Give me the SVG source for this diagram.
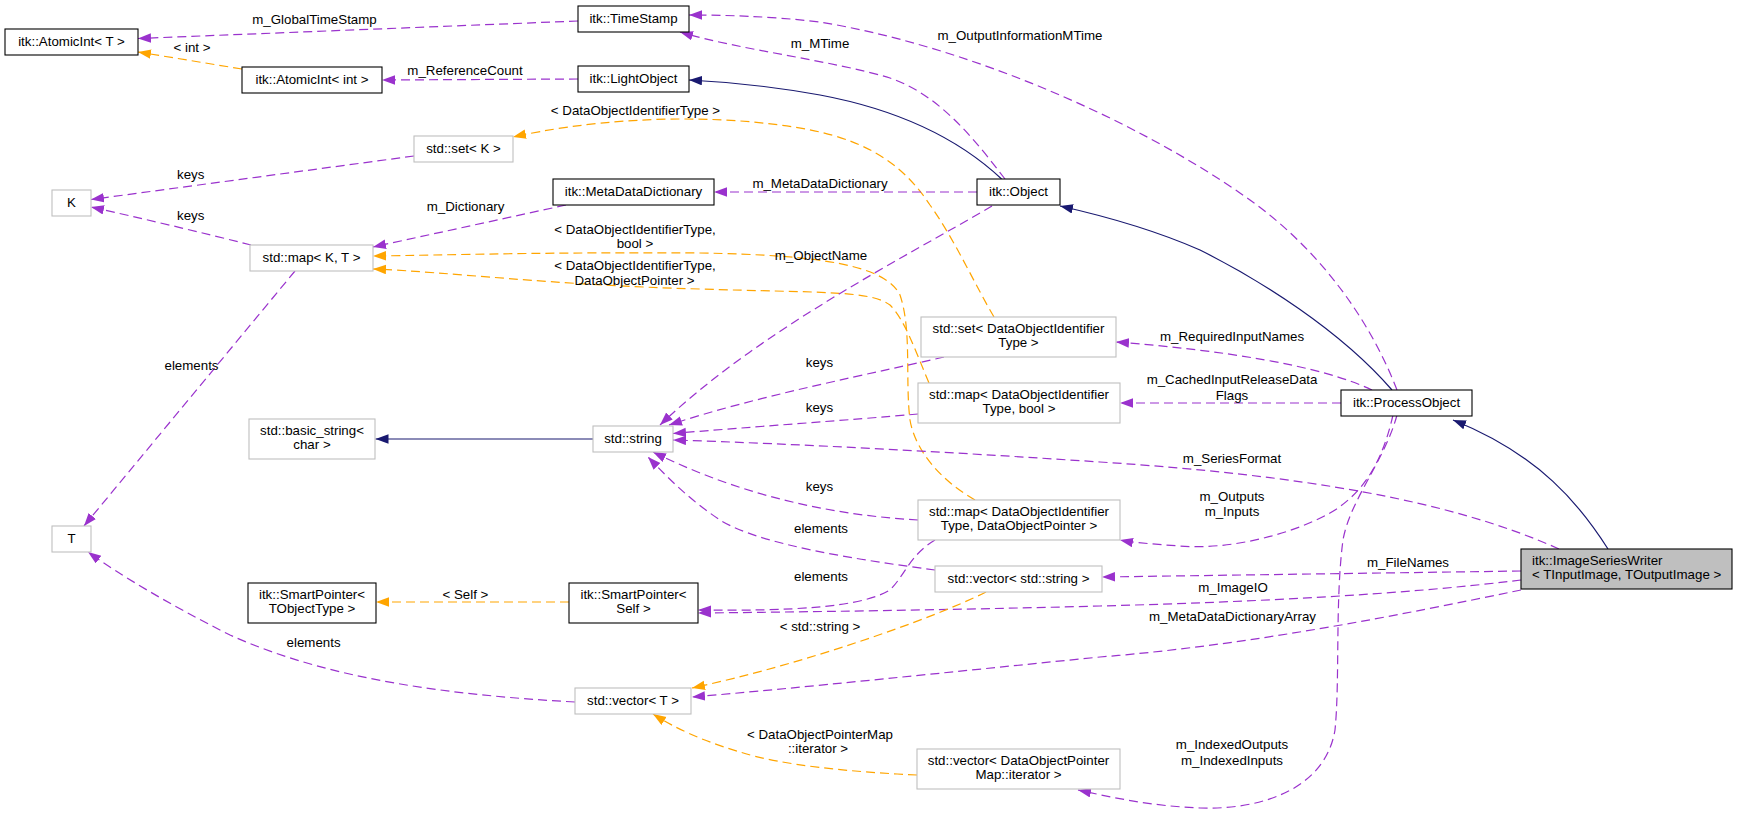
<svg xmlns="http://www.w3.org/2000/svg" width="1737" height="814" viewBox="0 0 1737 814">
<defs>
<style>
.doc{fill:#fff;stroke:#000;stroke-width:1.1}
.und{fill:#fff;stroke:#bfbfbf;stroke-width:1.1}
.main{fill:#bfbfbf;stroke:#000;stroke-width:1.1}
text{font-family:"Liberation Sans",Arial,Helvetica,sans-serif;font-size:13.3px;fill:#000}
.c{text-anchor:middle}
.ep{fill:none;stroke:#9a32cd;stroke-width:1.2;stroke-dasharray:9,5;marker-end:url(#ap)}
.eo{fill:none;stroke:#ffa500;stroke-width:1.2;stroke-dasharray:9,5;marker-end:url(#ao)}
.en{fill:none;stroke:#191970;stroke-width:1.2;marker-end:url(#an)}
</style>
<marker id="ap" markerUnits="userSpaceOnUse" markerWidth="14" markerHeight="11" refX="13" refY="4.75" orient="auto"><path d="M0,0 L13,4.75 L0,9.5 z" fill="#9a32cd"/></marker>
<marker id="ao" markerUnits="userSpaceOnUse" markerWidth="14" markerHeight="11" refX="13" refY="4.75" orient="auto"><path d="M0,0 L13,4.75 L0,9.5 z" fill="#ffa500"/></marker>
<marker id="an" markerUnits="userSpaceOnUse" markerWidth="14" markerHeight="11" refX="13" refY="4.75" orient="auto"><path d="M0,0 L13,4.75 L0,9.5 z" fill="#191970"/></marker>
</defs>
<rect width="1737" height="814" fill="#fff"/>
<g id="edges">
<path class="ep" d="M578,21 L138,38.5"/>
<text class="c" x="314.5" y="23.5">m_GlobalTimeStamp</text>
<path class="eo" d="M242,69 L138,52"/>
<text class="c" x="192" y="52">&lt; int &gt;</text>
<path class="ep" d="M578,79 L382,80"/>
<text class="c" x="465" y="75">m_ReferenceCount</text>
<path class="en" d="M1001.6,179 C960,140 900,110 820,95 C770,86 730,82 689,80"/>
<path class="ep" d="M1005,179 C975,140 940,95 890,78 C830,60 740,50 680,32"/>
<text class="c" x="820" y="48">m_MTime</text>
<path class="ep" d="M1397,390 C1370,320 1320,250 1250,200 C1130,115 960,45 820,22 C770,16 720,15 689,15"/>
<text class="c" x="1020" y="40">m_OutputInformationMTime</text>
<path class="eo" d="M994,317 C975,285 955,240 930,205 C900,160 860,135 780,125 C680,112 580,122 513,137"/>
<text class="c" x="635.5" y="114.5">&lt; DataObjectIdentifierType &gt;</text>
<path class="ep" d="M414,156 L91,199.5"/>
<text class="c" x="190.7" y="179">keys</text>
<path class="ep" d="M251,245 C200,232 140,218 91,207"/>
<text class="c" x="190.7" y="220">keys</text>
<path class="ep" d="M566,205 L373,247"/>
<text class="c" x="465.6" y="211">m_Dictionary</text>
<path class="ep" d="M977,192 L714,192"/>
<text class="c" x="820" y="188">m_MetaDataDictionary</text>
<path class="eo" d="M975,500 C940,480 915,450 910,420 C905,380 912,330 900,295 C885,265 820,255 700,253 C550,252 450,255 373,256"/>
<text class="c" x="635" y="233.5">&lt; DataObjectIdentifierType,</text>
<text class="c" x="635" y="248">bool &gt;</text>
<path class="eo" d="M929,383 C915,350 905,320 890,305 C870,290 820,293 700,289 C550,285 450,272 373,269"/>
<text class="c" x="635" y="269.5">&lt; DataObjectIdentifierType,</text>
<text class="c" x="634.5" y="284.5">DataObjectPointer &gt;</text>
<path class="ep" d="M992,206 C900,260 760,330 660,425"/>
<text class="c" x="821" y="260">m_ObjectName</text>
<path class="ep" d="M295,271 L84,526"/>
<text class="c" x="191.5" y="369.5">elements</text>
<path class="en" d="M593,439 L375.5,439"/>
<path class="ep" d="M944,357 C880,372 760,395 669,425"/>
<text class="c" x="819.5" y="367">keys</text>
<path class="ep" d="M918,414 C850,420 750,427 673,433.5"/>
<text class="c" x="819.5" y="412">keys</text>
<path class="ep" d="M1372,390 C1320,365 1220,350 1116,342"/>
<text class="c" x="1232" y="340.5">m_RequiredInputNames</text>
<path class="ep" d="M1341,403 L1120,403"/>
<text class="c" x="1232" y="384">m_CachedInputReleaseData</text>
<text class="c" x="1232" y="399.5">Flags</text>
<path class="ep" d="M1393,415 C1385,450 1370,490 1330,513 C1290,535 1230,550 1180,546 C1150,544 1130,542 1120,540"/>
<text class="c" x="1232" y="501">m_Outputs</text>
<text class="c" x="1232" y="516">m_Inputs</text>
<path class="en" d="M1392,390 C1340,330 1260,280 1200,250 C1150,228 1100,215 1060,206"/>
<path class="en" d="M1608,549 C1580,505 1540,455 1453,420"/>
<path class="ep" d="M1559,549 C1450,500 1300,475 1100,462 C950,452 800,444 673,440"/>
<text class="c" x="1232" y="463">m_SeriesFormat</text>
<path class="ep" d="M918,520 C830,515 740,495 653,452"/>
<text class="c" x="819.5" y="491">keys</text>
<path class="ep" d="M935,570 C860,560 760,545 720,520 C690,500 670,480 648,457"/>
<text class="c" x="821" y="533">elements</text>
<path class="ep" d="M1521,571 L1102,577"/>
<text class="c" x="1408" y="567">m_FileNames</text>
<path class="ep" d="M1521,580 C1400,595 1250,602 1100,606 C950,610 800,612 698,613"/>
<text class="c" x="1233" y="592">m_ImageIO</text>
<path class="ep" d="M935,540 C910,555 905,575 890,590 C860,608 790,611 698,610"/>
<text class="c" x="821" y="581">elements</text>
<path class="eo" d="M569,602 L376,602"/>
<text class="c" x="465.4" y="599">&lt; Self &gt;</text>
<path class="eo" d="M986,592 C930,620 800,665 692,688"/>
<text class="c" x="820" y="631">&lt; std::string &gt;</text>
<path class="ep" d="M1521,590 C1400,615 1250,645 1100,657 C950,672 800,688 692,697"/>
<text class="c" x="1232.5" y="621">m_MetaDataDictionaryArray</text>
<path class="ep" d="M575,702 C450,695 330,680 230,635 C170,605 120,575 88,552"/>
<text class="c" x="313.6" y="647">elements</text>
<path class="eo" d="M917,775 C850,772 780,765 740,752 C700,740 675,728 653,714"/>
<text class="c" x="820" y="739">&lt; DataObjectPointerMap</text>
<text class="c" x="818" y="753">::iterator &gt;</text>
<path class="ep" d="M1397,415 C1385,460 1350,500 1343,540 C1335,600 1340,680 1335,730 C1325,790 1260,810 1200,808 C1150,806 1110,797 1078,790"/>
<text class="c" x="1232" y="749">m_IndexedOutputs</text>
<text class="c" x="1232" y="764.5">m_IndexedInputs</text>
</g>
<g id="n_atomicT"><rect class="doc" x="5" y="29" width="133" height="26"/><text class="c" x="71.5" y="46">itk::AtomicInt&lt; T &gt;</text></g>
<g id="n_atomicInt"><rect class="doc" x="242" y="67" width="140" height="26"/><text class="c" x="312" y="84">itk::AtomicInt&lt; int &gt;</text></g>
<g id="n_timestamp"><rect class="doc" x="578" y="6" width="111" height="26"/><text class="c" x="633.5" y="23">itk::TimeStamp</text></g>
<g id="n_lightobject"><rect class="doc" x="578" y="66" width="111" height="26"/><text class="c" x="633.5" y="83">itk::LightObject</text></g>
<g id="n_setK"><rect class="und" x="414" y="136" width="99" height="26"/><text class="c" x="463.5" y="153">std::set&lt; K &gt;</text></g>
<g id="n_K"><rect class="und" x="52" y="190" width="39" height="26"/><text class="c" x="71.5" y="207">K</text></g>
<g id="n_mdd"><rect class="doc" x="553" y="179" width="161" height="26"/><text class="c" x="633.5" y="196">itk::MetaDataDictionary</text></g>
<g id="n_object"><rect class="doc" x="977" y="179" width="83" height="26"/><text class="c" x="1018.5" y="196">itk::Object</text></g>
<g id="n_mapKT"><rect class="und" x="250" y="245" width="123" height="26"/><text class="c" x="311.5" y="262">std::map&lt; K, T &gt;</text></g>
<g id="n_setDOIT"><rect class="und" x="921" y="317" width="195" height="40"/><text class="c" x="1018.5" y="333">std::set&lt; DataObjectIdentifier</text><text class="c" x="1018.5" y="346.5">Type &gt;</text></g>
<g id="n_mapBool"><rect class="und" x="918" y="383" width="202" height="40"/><text class="c" x="1019" y="399">std::map&lt; DataObjectIdentifier</text><text class="c" x="1019" y="412.5">Type, bool &gt;</text></g>
<g id="n_processobject"><rect class="doc" x="1341" y="390" width="131" height="26"/><text class="c" x="1406.5" y="407">itk::ProcessObject</text></g>
<g id="n_basicstring"><rect class="und" x="249" y="419" width="126" height="40"/><text class="c" x="312" y="435">std::basic_string&lt;</text><text class="c" x="312" y="448.5">char &gt;</text></g>
<g id="n_string"><rect class="und" x="593" y="426" width="80" height="26"/><text class="c" x="633" y="443">std::string</text></g>
<g id="n_mapDOP"><rect class="und" x="918" y="500" width="202" height="40"/><text class="c" x="1019" y="516">std::map&lt; DataObjectIdentifier</text><text class="c" x="1019" y="529.5">Type, DataObjectPointer &gt;</text></g>
<g id="n_T"><rect class="und" x="52" y="526" width="39" height="26"/><text class="c" x="71.5" y="543">T</text></g>
<g id="n_isw"><rect class="main" x="1521" y="549" width="211" height="40"/><text x="1532" y="565">itk::ImageSeriesWriter</text><text x="1532" y="578.5">&lt; TInputImage, TOutputImage &gt;</text></g>
<g id="n_vecstring"><rect class="und" x="935" y="566" width="167" height="26"/><text class="c" x="1018.5" y="583">std::vector&lt; std::string &gt;</text></g>
<g id="n_spTObj"><rect class="doc" x="248" y="583" width="128" height="40"/><text class="c" x="312" y="599">itk::SmartPointer&lt;</text><text class="c" x="312" y="612.5">TObjectType &gt;</text></g>
<g id="n_spSelf"><rect class="doc" x="569" y="583" width="129" height="40"/><text class="c" x="633.5" y="599">itk::SmartPointer&lt;</text><text class="c" x="633.5" y="612.5">Self &gt;</text></g>
<g id="n_vecT"><rect class="und" x="575" y="688" width="116" height="26"/><text class="c" x="633" y="705">std::vector&lt; T &gt;</text></g>
<g id="n_vecDOP"><rect class="und" x="917" y="749" width="203" height="40"/><text class="c" x="1018.5" y="765">std::vector&lt; DataObjectPointer</text><text class="c" x="1018.5" y="778.5">Map::iterator &gt;</text></g>
</svg>
